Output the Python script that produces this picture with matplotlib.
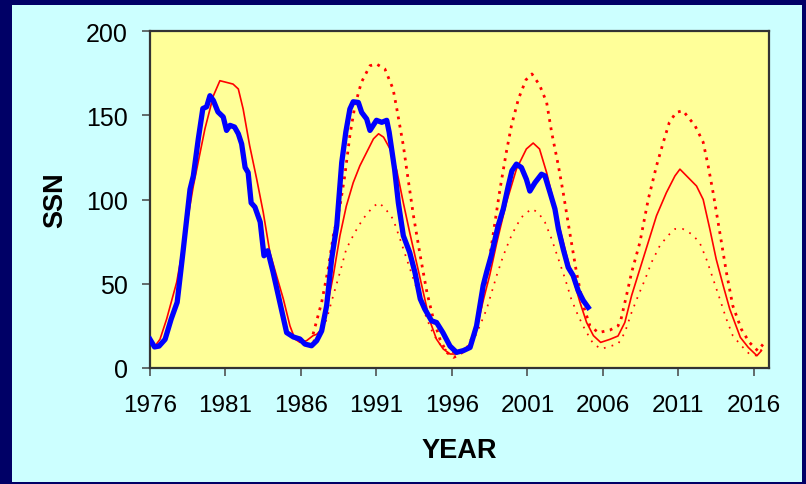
import matplotlib
matplotlib.use("Agg")
import matplotlib.pyplot as plt
from matplotlib.patches import Rectangle

# ---- data ----
obs_year = [1976.0, 1976.3, 1976.6, 1977.0, 1977.4, 1977.8, 1978.2, 1978.65, 1978.87, 1979.2,
            1979.5, 1979.75, 1979.97, 1980.2, 1980.5, 1980.85, 1981.07, 1981.3, 1981.6, 1981.85,
            1982.07, 1982.3, 1982.5, 1982.7, 1982.95, 1983.3, 1983.55, 1983.8, 1984.15, 1984.4,
            1984.7, 1985.05, 1985.5, 1985.93, 1986.26, 1986.7, 1987.04, 1987.37, 1987.7, 1988.03,
            1988.37, 1988.7, 1988.97, 1989.24, 1989.46, 1989.8, 1990.02, 1990.35, 1990.57, 1991.0,
            1991.35, 1991.68, 1991.84, 1992.2, 1992.45, 1992.78, 1993.2, 1993.55, 1993.9, 1994.2,
            1994.65, 1994.98, 1995.4, 1995.87, 1996.3, 1996.75, 1997.2, 1997.63, 1998.07, 1998.3,
            1998.6, 1999.06, 1999.4, 1999.73, 1999.97, 2000.27, 2000.6, 2000.93, 2001.16, 2001.5,
            2001.93, 2002.16, 2002.5, 2002.82, 2003.05, 2003.37, 2003.7, 2004.03, 2004.36, 2004.7,
            2005.02]
obs_ssn = [17, 12.5, 13, 17, 29, 39, 70, 106, 114, 136,
           154, 155, 161.6, 158.7, 152, 149, 141, 144, 143, 139,
           133, 119, 116, 98, 95.5, 86.6, 66.6, 69.6, 57, 47,
           35, 21, 18.4, 17.2, 14.2, 13.2, 16.2, 22, 37, 64.7,
           84.5, 122, 140, 153.7, 158, 157.6, 151.7, 147.8, 141, 147,
           145.8, 147, 140, 118, 98, 78.5, 68.6, 56.7, 41, 35,
           28, 27, 21, 13, 9.3, 10.3, 12.2, 25, 49, 57,
           66.6, 84.5, 94.4, 108, 117, 121, 119, 112, 105, 110,
           115, 114, 104, 94.4, 82.5, 70.6, 59.7, 54.8, 45.9, 40,
           36]

model_year = [1976.0, 1976.33, 1976.66, 1977.1, 1977.77, 1978.2, 1978.87, 1979.64, 1980.2, 1980.63,
              1981.07, 1981.5, 1981.85, 1982.17, 1982.6, 1983.07, 1983.5, 1983.94, 1984.38, 1984.83,
              1985.27, 1985.6, 1985.93, 1986.37, 1986.8, 1987.04, 1987.37, 1987.7, 1988.14, 1988.58,
              1989.0, 1989.46, 1989.9, 1990.35, 1990.8, 1991.14, 1991.47, 1991.9, 1992.35, 1992.78,
              1993.2, 1993.65, 1994.1, 1994.5, 1994.97, 1995.42, 1995.87, 1996.3, 1996.75, 1997.2,
              1997.63, 1998.07, 1998.5, 1998.96, 1999.6, 2000.27, 2000.93, 2001.38, 2001.8, 2002.27,
              2002.7, 2003.15, 2003.6, 2004.03, 2004.48, 2004.92, 2005.37, 2005.85, 2006.46, 2007.0,
              2007.45, 2007.9, 2008.45, 2009.0, 2009.55, 2010.2, 2010.77, 2011.1, 2011.65, 2012.2,
              2012.64, 2013.08, 2013.5, 2013.97, 2014.4, 2015.1, 2015.63, 2016.2, 2016.5]
model_ssn = [16, 13, 17, 29, 51, 72.6, 108, 142, 161.6, 170.5,
             169.5, 168.5, 165.6, 153.7, 132, 112, 92.4, 68.6, 54.8, 41,
             25, 17.2, 15.2, 16.2, 19.2, 20, 23, 35, 54.8, 78.5,
             96, 110, 120, 128, 136, 139, 137, 130, 117, 98,
             80.5, 62.7, 45, 29, 17.2, 11.3, 8.3, 8.3, 10.3, 14.2,
             23, 40, 55, 74, 98, 118, 130, 133.5, 130, 116,
             100, 82.5, 66.6, 52.8, 39, 27, 19.2, 15.2, 17, 19,
             27, 43, 58.8, 74.6, 90.4, 104, 114, 118, 113, 108,
             100, 82.5, 64.7, 48.8, 35, 18.2, 12.2, 7.3, 10.3]

upper_year = [1986.8, 1987.37, 1987.8, 1988.14, 1988.58, 1988.9, 1989.24, 1989.57, 1990.0, 1990.57,
              1991.0, 1991.56, 1992.1, 1992.35, 1992.78, 1993.0, 1993.45, 1993.9, 1994.34, 1994.77,
              1995.2, 1995.65, 1996.1, 1996.4, 1996.97, 1997.4, 1997.85, 1998.3, 1998.74, 1999.18,
              1999.6, 1999.94, 2000.4, 2000.9, 2001.3, 2001.8, 2002.27, 2002.6, 2003.05, 2003.37,
              2003.8, 2004.25, 2004.7, 2005.14, 2005.7, 2006.46, 2007.0, 2007.2, 2007.56, 2007.9,
              2008.45, 2009.0, 2009.55, 2010.0, 2010.4, 2010.85, 2011.3, 2012.1, 2012.64, 2012.97,
              2013.3, 2013.74, 2014.18, 2014.6, 2015.17, 2015.7, 2016.25, 2016.6]
upper_ssn = [20, 39, 58.8, 78.5, 96, 114, 138, 155.6, 169.5, 179.4,
             180.4, 177.4, 165.6, 153.7, 132, 118, 90.4, 66.6, 45, 29,
             17.2, 9.3, 6.3, 7.3, 11.3, 19.2, 33, 54, 80, 106,
             128, 143.8, 159.6, 171, 174.5, 168, 157.7, 140, 120, 104,
             80.5, 56.7, 37, 25, 21, 22.5, 25, 29, 43, 56.7,
             74.6, 100, 120, 134, 145.8, 151.7, 152.7, 143.8, 134, 120,
             104, 80.5, 56.7, 37, 23, 15.2, 10.3, 14]

lower_year = [1986.8, 1987.26, 1987.7, 1988.14, 1988.58, 1989.0, 1989.57, 1990.1, 1990.8, 1991.2,
              1991.68, 1992.1, 1992.56, 1993.0, 1993.45, 1993.9, 1994.34, 1994.77, 1995.2, 1995.65,
              1996.1, 1996.55, 1996.97, 1997.4, 1997.85, 1998.3, 1998.96, 1999.4, 1999.84, 2000.27,
              2000.7, 2001.27, 2001.7, 2002.16, 2002.6, 2003.05, 2003.5, 2003.9, 2004.36, 2004.8,
              2005.37, 2005.9, 2006.5, 2007.0, 2007.45, 2007.9, 2008.34, 2008.8, 2009.22, 2009.77,
              2010.3, 2010.77, 2011.3, 2011.87, 2012.4, 2012.85, 2013.3, 2013.74, 2014.18, 2014.6,
              2015.17, 2015.7, 2016.2, 2016.6]
lower_ssn = [16, 19.2, 29, 43, 56.7, 70.6, 80.5, 88.4, 96, 98,
             93.4, 88.4, 76.6, 64.7, 52.8, 41, 29, 20, 14.2, 10.3,
             9.3, 9.3, 10.3, 16, 25, 35, 54.8, 66.6, 76.6, 84.5,
             90.4, 94.4, 92.4, 86.5, 76.6, 64.7, 52.8, 41, 31, 23,
             14.2, 11.3, 13, 14.2, 21, 33, 43, 52.8, 62.7, 72.6,
             78.5, 82.5, 82.5, 79.5, 74.6, 64.7, 52.8, 41, 29, 19.2,
             13.2, 8.3, 7.3, 12.2]

x_ticks = [1976, 1981, 1986, 1991, 1996, 2001, 2006, 2011, 2016]
y_ticks = [0, 50, 100, 150, 200]

# ---- figure ----
plt.rcParams['font.family'] = ['Liberation Sans', 'DejaVu Sans']
W, H = 806, 485
fig = plt.figure(figsize=(W / 100, H / 100), dpi=100, facecolor='#000066')
fig.patches.append(Rectangle((12 / W, 2 / H), 790 / W, 477 / H, transform=fig.transFigure,
                             facecolor='#CCFFFF', edgecolor='none', zorder=-10))

ax = fig.add_axes([150 / W, (H - 369) / H, 619 / W, 337 / H])
ax.set_zorder(5)
ax.set_facecolor('#FFFF99')

ax.plot(model_year, model_ssn, color='#FF0000', lw=1.2, zorder=3)
ax.plot(upper_year, upper_ssn, color='#FF0000', lw=2.0, linestyle=(0, (1, 2.0)),
        dash_capstyle='butt', zorder=3)
ax.plot(lower_year, lower_ssn, color='#FF0000', lw=1.25, linestyle=(0, (1, 3.6)),
        dash_capstyle='butt', zorder=3)
ax.plot(obs_year, obs_ssn, color='#0000FF', lw=3.8, solid_joinstyle='round', zorder=4)

ax.set_xlim(1976, 2017)
ax.set_ylim(0, 200)
ax.set_xticks(x_ticks)
ax.set_yticks(y_ticks)
ax.tick_params(direction='out', length=6, width=1.1, color='#444444')
ax.tick_params(axis='y', labelsize=18, pad=10)
ax.tick_params(axis='x', labelsize=17.5, pad=13)
for s in ax.spines.values():
    s.set_color('#333333')
    s.set_linewidth(1.6)

ax.set_xlabel('YEAR', fontsize=19.5, fontweight='bold', labelpad=15)
ax.set_ylabel('SSN', fontsize=19.5, fontweight='bold', labelpad=13)

fig.savefig('out.png', dpi=100, facecolor=fig.get_facecolor())
